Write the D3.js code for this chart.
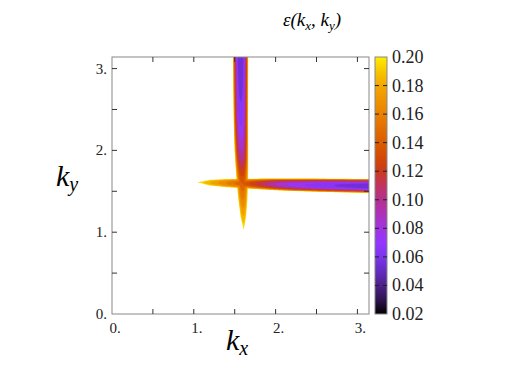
<!DOCTYPE html>
<html>
<head>
<meta charset="utf-8">
<script src="https://cdn.jsdelivr.net/npm/d3@7"></script>
<style>
  body { margin: 0; background: #fff; }
</style>
</head>
<body>
<div class="js-chart"></div>
<script>
// vertical arm of the dispersion valley (sampled along k_y)
var vArmKy     = [1.02, 1.2, 1.4, 1.6, 1.8, 1.9, 2.0, 2.2, 2.4, 2.8, 3.1416];
var vArmCenter = [1.61, 1.605, 1.60, 1.594, 1.588, 1.585, 1.582, 1.578, 1.575, 1.573, 1.572];
var vArmMin    = [0.20, 0.18, 0.16, 0.14, 0.115, 0.10, 0.09, 0.075, 0.065, 0.055, 0.05];
var vArmHalf   = [0.0, 0.035, 0.055, 0.068, 0.077, 0.08, 0.083, 0.086, 0.088, 0.091, 0.093];

// horizontal arm (sampled along k_x)
var hArmKx     = [1.04, 1.2, 1.4, 1.6, 1.8, 2.0, 2.2, 2.5, 2.8, 3.1416];
var hArmCenter = [1.61, 1.605, 1.60, 1.595, 1.59, 1.585, 1.58, 1.575, 1.57, 1.565];
var hArmMin    = [0.20, 0.18, 0.16, 0.14, 0.115, 0.09, 0.075, 0.065, 0.058, 0.05];
var hArmHalf   = [0.0, 0.035, 0.05, 0.058, 0.065, 0.072, 0.076, 0.08, 0.083, 0.085];

// colour scale
var colorStops  = [0.02, 0.03, 0.04, 0.05, 0.06, 0.07, 0.08, 0.09, 0.10, 0.11, 0.12, 0.13, 0.14, 0.15, 0.16, 0.17, 0.18, 0.19, 0.20];
var colorValues = ["#000000", "#2e1450", "#4c2288", "#642cc0", "#7c34ec", "#9436ff", "#a034e0", "#ac32b8", "#b4308e", "#c03460", "#ca3a1c", "#d24a04", "#da5c00", "#e26e00", "#e98200", "#ee9400", "#f2a800", "#f8c600", "#ffec00"];

var axisTicks  = [0, 1, 2, 3];
var minorTicks = [0.5, 1.5, 2.5];
var cbarTicks  = [0.02, 0.04, 0.06, 0.08, 0.10, 0.12, 0.14, 0.16, 0.18, 0.20];
var levels     = d3.range(0.02, 0.2001, 0.01);

var FONT = "'Liberation Serif', 'DejaVu Serif', serif";
var W = 518, H = 388;
var svg = d3.select(".js-chart").append("svg")
  .attr("width", W).attr("height", H)
  .attr("font-family", FONT);

var x = d3.scaleLinear().domain([0, Math.PI]).range([112, 369]);
var y = d3.scaleLinear().domain([0, Math.PI]).range([314, 57]);
var color = d3.scaleLinear().domain(colorStops).range(colorValues).clamp(true);

// profile scales
var vC = d3.scaleLinear().domain(vArmKy).range(vArmCenter);
var vM = d3.scaleLinear().domain(vArmKy).range(vArmMin);
var vH = d3.scaleLinear().domain(vArmKy).range(vArmHalf);
var hC = d3.scaleLinear().domain(hArmKx).range(hArmCenter);
var hM = d3.scaleLinear().domain(hArmKx).range(hArmMin);
var hH = d3.scaleLinear().domain(hArmKx).range(hArmHalf);

function armValue(along, across, lo, hi, c, m, h) {
  if (along < lo || along > hi) return 1;
  var hw = h(along);
  if (hw <= 0) return 1;
  var mn = m(along);
  var d = Math.abs(across - c(along)) / hw;
  return mn + (0.2 - mn) * Math.pow(d, 2.6);
}

// sample the field on a grid
var n = 420;
var grid = new Float64Array(n * n);
for (var j = 0; j < n; j++) {
  var ky = (j + 0.5) * Math.PI / n;
  for (var i = 0; i < n; i++) {
    var kx = (i + 0.5) * Math.PI / n;
    var a = armValue(ky, kx, vArmKy[0], Math.PI, vC, vM, vH);
    var b = armValue(kx, ky, hArmKx[0], Math.PI, hC, hM, hH);
    grid[j * n + i] = -Math.min(a, b);
  }
}

var proj = d3.geoTransform({
  point: function(px, py) {
    this.stream.point(x(px * Math.PI / n), y(py * Math.PI / n));
  }
});
var path = d3.geoPath(proj);

svg.append("clipPath").attr("id", "plotclip")
  .append("rect").attr("x", 112).attr("y", 57).attr("width", 257).attr("height", 257);

var contours = d3.contours().size([n, n])
  .thresholds(levels.map(function(t) { return -t; }).reverse())(grid);

// draw largest region first (highest level) so lower bands stack on top
svg.append("g").attr("clip-path", "url(#plotclip)")
  .selectAll("path")
  .data(contours)
  .enter().append("path")
  .attr("d", path)
  .attr("fill", function(d) { return color(-d.value - 0.005); })
  .attr("stroke", "none");

// frame
svg.append("rect")
  .attr("x", 112).attr("y", 57).attr("width", 257).attr("height", 257)
  .attr("fill", "none").attr("stroke", "#888").attr("stroke-width", 1);

var allTicks = axisTicks.concat(minorTicks);
var tk = svg.append("g").attr("stroke", "#333").attr("stroke-width", 1);
allTicks.forEach(function(t) {
  var tl = t === 0 ? 0 : 5;
  tk.append("line").attr("x1", x(t)).attr("x2", x(t)).attr("y1", 314).attr("y2", 314 - tl);
  tk.append("line").attr("x1", x(t)).attr("x2", x(t)).attr("y1", 57).attr("y2", 57 + tl);
  tk.append("line").attr("y1", y(t)).attr("y2", y(t)).attr("x1", 112).attr("x2", 112 + tl);
  tk.append("line").attr("y1", y(t)).attr("y2", y(t)).attr("x1", 369).attr("x2", 369 - tl);
});

svg.selectAll(".xl").data(axisTicks).enter().append("text")
  .attr("x", function(d) { return x(d) + 3; })
  .attr("y", 333)
  .attr("text-anchor", "middle")
  .attr("font-size", 15)
  .attr("fill", "#222")
  .text(function(d) { return d + "."; });

svg.selectAll(".yl").data(axisTicks).enter().append("text")
  .attr("x", 107)
  .attr("y", function(d) { return y(d) + 5; })
  .attr("text-anchor", "end")
  .attr("font-size", 15)
  .attr("fill", "#222")
  .text(function(d) { return d + "."; });

// axis titles
var kxl = svg.append("text").attr("x", 226).attr("y", 350)
  .attr("font-size", 30).attr("font-style", "italic");
kxl.append("tspan").text("k");
kxl.append("tspan").attr("font-size", 20).attr("dy", 5).text("x");

var kyl = svg.append("text").attr("x", 56).attr("y", 186)
  .attr("font-size", 30).attr("font-style", "italic");
kyl.append("tspan").text("k");
kyl.append("tspan").attr("font-size", 20).attr("dy", 5).text("y");

var tl = svg.append("text").attr("x", 283).attr("y", 26)
  .attr("font-size", 19).attr("font-style", "italic");
tl.append("tspan").text("ε(k");
tl.append("tspan").attr("font-size", 13).attr("dy", 4).text("x");
tl.append("tspan").attr("dy", -4).text(", k");
tl.append("tspan").attr("font-size", 13).attr("dy", 4).text("y");
tl.append("tspan").attr("dy", -4).text(")");

// colour bar
var cb = d3.scaleLinear().domain([0.02, 0.20]).range([314, 57]);
var grad = svg.append("defs").append("linearGradient")
  .attr("id", "cbgrad").attr("x1", 0).attr("y1", 1).attr("x2", 0).attr("y2", 0);
grad.selectAll("stop").data(colorStops).enter().append("stop")
  .attr("offset", function(d) { return (d - 0.02) / 0.18; })
  .attr("stop-color", function(d) { return color(d); });

svg.append("rect")
  .attr("x", 375).attr("y", 57).attr("width", 12).attr("height", 257)
  .attr("fill", "url(#cbgrad)").attr("stroke", "#888").attr("stroke-width", 1);

var ct = svg.append("g").attr("stroke", "#222").attr("stroke-width", 1);
cbarTicks.slice(1, -1).forEach(function(t) {
  ct.append("line").attr("x1", 375).attr("x2", 379).attr("y1", cb(t)).attr("y2", cb(t));
  ct.append("line").attr("x1", 383).attr("x2", 387).attr("y1", cb(t)).attr("y2", cb(t));
});

svg.selectAll(".cl").data(cbarTicks).enter().append("text")
  .attr("x", 392)
  .attr("y", function(d) { return cb(d) + 6; })
  .attr("font-size", 18)
  .attr("fill", "#222")
  .text(function(d) { return d.toFixed(2); });
</script>
</body>
</html>
